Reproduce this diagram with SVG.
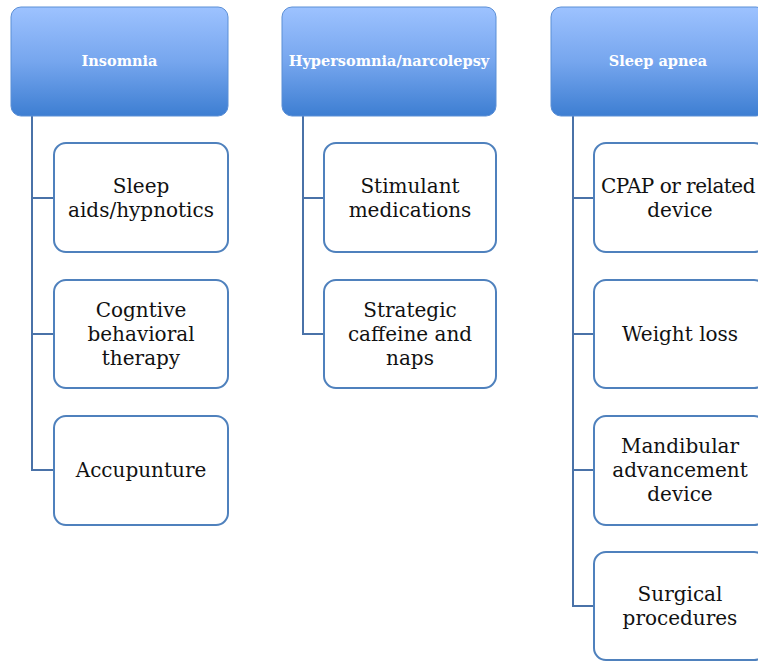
<svg xmlns="http://www.w3.org/2000/svg" width="758" height="663" viewBox="0 0 758 663">
<defs>
<linearGradient id="hg" x1="0" y1="0" x2="0" y2="1">
<stop offset="0" stop-color="#9DC2FF"/>
<stop offset="0.5" stop-color="#76A6EE"/>
<stop offset="1" stop-color="#3D7ED2"/>
</linearGradient>
<style>
.hdr{fill:url(#hg);stroke:#5B8FD6;stroke-width:1}
.ht{font-family:"DejaVu Serif",serif;font-weight:bold;font-size:14.5px;fill:#ffffff;text-anchor:middle}
.box{fill:#ffffff;stroke:#4F81BD;stroke-width:2}
.bt{font-family:"DejaVu Serif",serif;font-size:20px;fill:#111111;text-anchor:middle}
.con{fill:none;stroke:#4A72A8;stroke-width:2}
</style>
</defs>
<rect width="758" height="663" fill="#ffffff"/>
<g id="connectors">
<path class="con" d="M32 116V470H54M32 198H54M32 334H54"/>
<path class="con" d="M303 116V334H324M303 198H324"/>
<path class="con" d="M573 116V606H594M573 198H594M573 334H594M573 470H594"/>
</g>
<g id="insomnia"><rect class="hdr" x="11" y="7" width="217" height="109" rx="10"/><text class="ht" x="119.5" y="66">Insomnia</text></g>
<g id="hypersomnia"><rect class="hdr" x="282" y="7" width="214" height="109" rx="10"/><text class="ht" x="389" y="66">Hypersomnia/narcolepsy</text></g>
<g id="apnea"><rect class="hdr" x="551" y="7" width="215" height="109" rx="10"/><text class="ht" x="658" y="66">Sleep apnea</text></g>
<g id="sleep-aids"><rect class="box" x="54" y="143" width="174" height="109" rx="12"/><text class="bt" x="141" y="193">Sleep</text><text class="bt" x="141" y="217">aids/hypnotics</text></g>
<g id="cbt"><rect class="box" x="54" y="280" width="174" height="108" rx="12"/><text class="bt" x="141" y="317">Cogntive</text><text class="bt" x="141" y="341">behavioral</text><text class="bt" x="141" y="365">therapy</text></g>
<g id="acupuncture"><rect class="box" x="54" y="416" width="174" height="109" rx="12"/><text class="bt" x="141" y="477">Accupunture</text></g>
<g id="stimulant"><rect class="box" x="324" y="143" width="172" height="109" rx="12"/><text class="bt" x="410" y="193">Stimulant</text><text class="bt" x="410" y="217">medications</text></g>
<g id="caffeine"><rect class="box" x="324" y="280" width="172" height="108" rx="12"/><text class="bt" x="410" y="317">Strategic</text><text class="bt" x="410" y="341">caffeine and</text><text class="bt" x="410" y="365">naps</text></g>
<g id="cpap"><rect class="box" x="594" y="143" width="172" height="109" rx="12"/><text class="bt" x="678" y="193" letter-spacing="-0.5">CPAP or related</text><text class="bt" x="680" y="217">device</text></g>
<g id="weight"><rect class="box" x="594" y="280" width="172" height="108" rx="12"/><text class="bt" x="680" y="341">Weight loss</text></g>
<g id="mandibular"><rect class="box" x="594" y="416" width="172" height="109" rx="12"/><text class="bt" x="680" y="453">Mandibular</text><text class="bt" x="680" y="477">advancement</text><text class="bt" x="680" y="501">device</text></g>
<g id="surgical"><rect class="box" x="594" y="552" width="172" height="108" rx="12"/><text class="bt" x="680" y="601">Surgical</text><text class="bt" x="680" y="625">procedures</text></g>
</svg>
